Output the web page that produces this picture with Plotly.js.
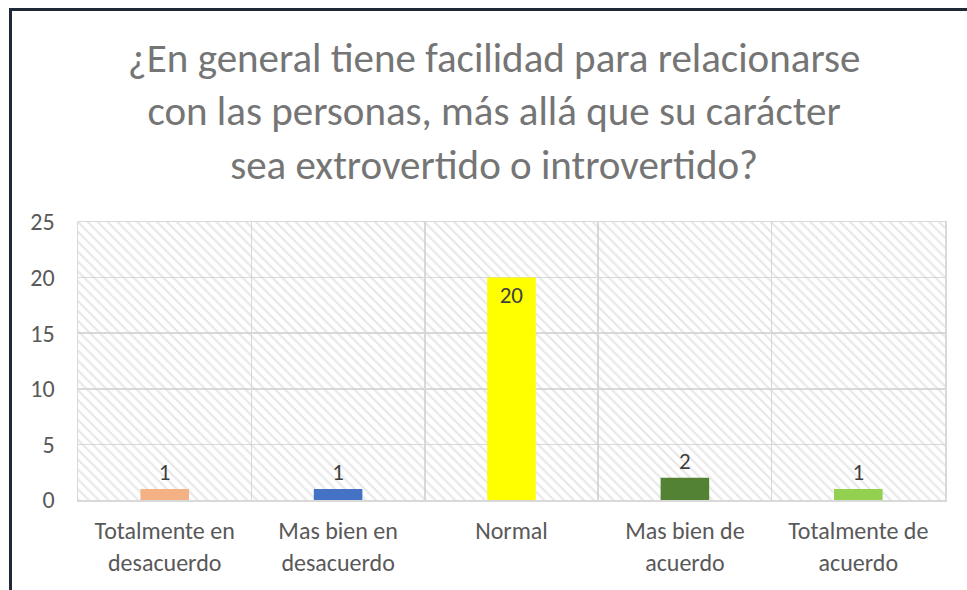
<!DOCTYPE html>
<html>
<head>
<meta charset="utf-8">
<script src="https://cdn.plot.ly/plotly-3.0.1.min.js"></script>
<style>
  html, body { margin: 0; padding: 0; background: #ffffff; }
  #wrap { position: relative; width: 967px; height: 590px; overflow: hidden; }
  #chart { position: absolute; left: 0; top: 0; width: 967px; height: 590px; }
  #frame { position: absolute; left: 9px; top: 8px; width: 1000px; height: 700px;
           border-left: 3px solid #1f2836; border-top: 3px solid #1f2836; pointer-events: none; }
</style>
</head>
<body>
<div id="wrap">
  <div id="chart"></div>
  <div id="frame"></div>
</div>
<script>
const categories = [
  "Totalmente en<br>desacuerdo",
  "Mas bien en<br>desacuerdo",
  "Normal",
  "Mas bien de<br>acuerdo",
  "Totalmente de<br>acuerdo"
];
const values = [1, 1, 20, 2, 1];
const barColors = ["#F4B183", "#4472C4", "#FFFF00", "#548235", "#92D050"];
const labelPositions = ["outside", "outside", "inside", "outside", "outside"];
const yMax = 25;
const titleText = "¿En general tiene facilidad para relacionarse<br>con las personas, más allá que su carácter<br>sea extrovertido o introvertido?";

const font = "Calibri, Carlito, 'Open Sans', 'Noto Sans', sans-serif";

const hatch = {
  type: "bar",
  x: categories,
  y: categories.map(() => yMax),
  width: 1,
  marker: {
    color: "rgba(0,0,0,0)",
    line: { width: 0 },
    pattern: { shape: "\\", fgcolor: "#d0d0d0", bgcolor: "rgba(0,0,0,0)", size: 7, solidity: 0.3, fillmode: "overlay" }
  },
  hoverinfo: "skip",
  showlegend: false
};

const bars = {
  type: "bar",
  x: categories,
  y: values,
  width: 0.28,
  marker: { color: barColors, line: { width: 0 } },
  text: values.map(String),
  textposition: labelPositions,
  insidetextanchor: "end",
  textfont: { family: font, size: 23, color: "#404040" },
  outsidetextfont: { family: font, size: 23, color: "#404040" },
  insidetextfont: { family: font, size: 23, color: "#404040" },
  cliponaxis: false,
  showlegend: false
};

const layout = {
  width: 967,
  height: 590,
  margin: { l: 78, r: 22, t: 222, b: 90 },
  paper_bgcolor: "#ffffff",
  plot_bgcolor: "#ffffff",
  barmode: "overlay",
  title: {
    text: titleText,
    font: { family: font, size: 41, color: "#757575" },
    x: 0.511, xanchor: "center",
    y: 0.878, yanchor: "middle"
  },
  xaxis: {
    type: "category",
    tickson: "boundaries",
    showgrid: true,
    gridcolor: "#d9d9d9",
    gridwidth: 1.5,
    showline: true,
    linecolor: "#d9d9d9",
    linewidth: 1.5,
    mirror: true,
    ticks: "",
    ticklabelstandoff: 9,
    tickfont: { family: font, size: 24, color: "#595959" },
    fixedrange: true
  },
  yaxis: {
    range: [0, yMax],
    dtick: 5,
    showgrid: true,
    gridcolor: "#d9d9d9",
    gridwidth: 1.5,
    zeroline: false,
    showline: true,
    linecolor: "#d9d9d9",
    linewidth: 1.5,
    mirror: true,
    ticks: "",
    ticklabelstandoff: 17,
    tickfont: { family: font, size: 24, color: "#595959" },
    fixedrange: true
  }
};

Plotly.newPlot("chart", [hatch, bars], layout, { displayModeBar: false, staticPlot: true });
</script>
</body>
</html>
